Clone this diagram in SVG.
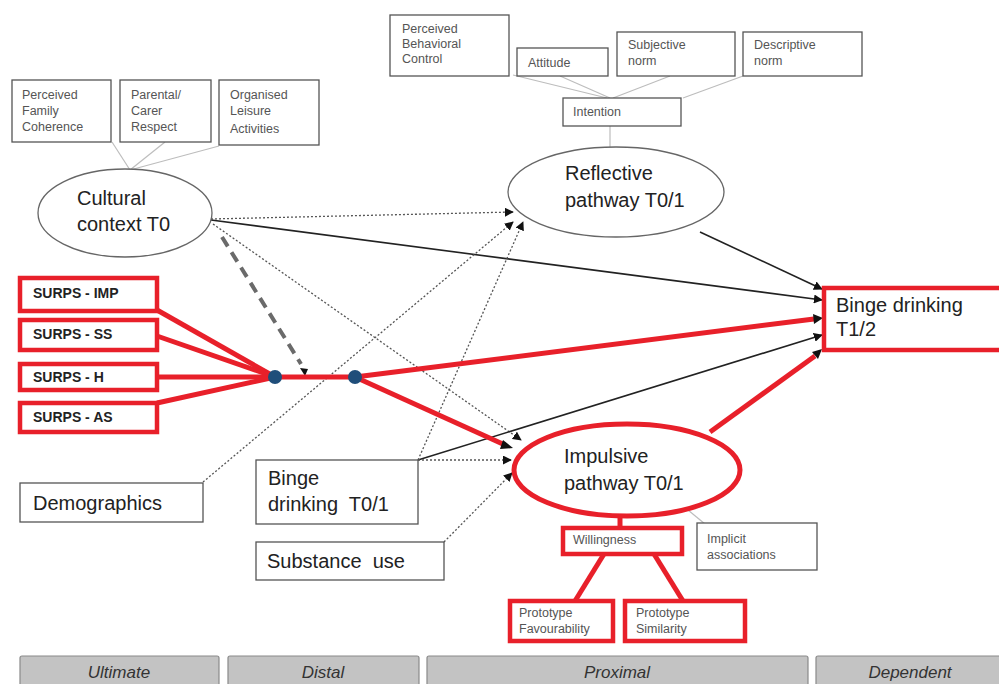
<svg xmlns="http://www.w3.org/2000/svg" width="999" height="684" viewBox="0 0 999 684">
<style>
.box{fill:#fff;stroke:#555;stroke-width:1.3}
.rbox{fill:#fff;stroke:#e8202a;stroke-width:4.5}
.sm{font-family:"Liberation Sans",Arial,sans-serif;font-size:12.5px;fill:#555}
.big{font-family:"Liberation Sans",Arial,sans-serif;font-size:20px;fill:#222;white-space:pre}
.bold{font-family:"Liberation Sans",Arial,sans-serif;font-size:14px;font-weight:bold;fill:#222}
.bar{fill:#c3c3c3;stroke:#8a8a8a;stroke-width:1.2}
.bart{font-family:"Liberation Sans",Arial,sans-serif;font-size:17px;font-style:italic;fill:#333;text-anchor:middle}
.sub{stroke:#bdbdbd;stroke-width:1.2;fill:none}
.dot{stroke:#555;stroke-width:1.3;stroke-dasharray:2 2;fill:none}
.sol{stroke:#222;stroke-width:1.6;fill:none}
.red{stroke:#e8202a;stroke-width:5;fill:none}
</style>
<defs>
<marker id="ah" viewBox="0 0 10 10" refX="9" refY="5" markerWidth="9" markerHeight="9" markerUnits="userSpaceOnUse" orient="auto">
<path d="M0,0 L10,5 L0,10 z" fill="#111"/>
</marker>
</defs>
<rect width="999" height="684" fill="#fff"/>

<g id="connectors">
<line class="sub" x1="112" y1="142" x2="130" y2="170"/>
<line class="sub" x1="165" y1="142" x2="130" y2="170"/>
<line class="sub" x1="219" y1="146" x2="130" y2="170"/>
<line class="sub" x1="513" y1="75" x2="607" y2="98"/>
<line class="sub" x1="560" y1="76" x2="610" y2="98"/>
<line class="sub" x1="670" y1="76" x2="613" y2="98"/>
<line class="sub" x1="743" y1="76" x2="683" y2="98"/>
<line class="sub" x1="610" y1="126" x2="610" y2="147"/>
<line class="sub" x1="688" y1="510" x2="705" y2="524"/>
<line class="dot" x1="211" y1="219" x2="513" y2="212" marker-end="url(#ah)"/>
<line class="sol" x1="211" y1="220" x2="822" y2="300" marker-end="url(#ah)"/>
<line class="dot" x1="213" y1="224" x2="521" y2="440" marker-end="url(#ah)"/>
<line x1="222" y1="237" x2="301" y2="364" stroke="#6a6a6a" stroke-width="4" stroke-dasharray="11 7"/>
<path d="M300,368 L308,369 L305,376 z" fill="#111"/>
<line class="dot" x1="203" y1="482" x2="513" y2="222" marker-end="url(#ah)"/>
<line class="dot" x1="418" y1="460" x2="523" y2="222" marker-end="url(#ah)"/>
<line class="sol" x1="418" y1="460" x2="822" y2="335" marker-end="url(#ah)"/>
<line class="dot" x1="418" y1="460" x2="511" y2="460" marker-end="url(#ah)"/>
<line class="dot" x1="444" y1="542" x2="512" y2="473" marker-end="url(#ah)"/>
<line class="sol" x1="700" y1="232" x2="822" y2="289" marker-end="url(#ah)"/>
<line class="red" x1="157" y1="310" x2="275" y2="377"/>
<line class="red" x1="157" y1="336" x2="275" y2="377"/>
<line class="red" x1="157" y1="377" x2="275" y2="377"/>
<line class="red" x1="157" y1="403" x2="275" y2="377"/>
<line class="red" x1="275" y1="377" x2="355" y2="377"/>
<line class="red" x1="355" y1="377" x2="814" y2="319"/>
<path d="M813,314 L823,318 L814,324 z" fill="#111"/>
<line class="red" x1="355" y1="377" x2="505" y2="445"/>
<path d="M503,440 L513,448 L500,449 z" fill="#111"/>
<line class="red" x1="710" y1="432" x2="815" y2="356"/>
<path d="M812,352 L822,349 L818,359 z" fill="#111"/>
<line class="red" x1="620" y1="516" x2="620" y2="528"/>
<line class="red" x1="604" y1="554" x2="575" y2="601"/>
<line class="red" x1="654" y1="554" x2="683" y2="601"/>
</g>

<g id="dots">
<circle cx="275" cy="377" r="7" fill="#1f4e7a"/>
<circle cx="355" cy="377" r="7" fill="#1f4e7a"/>
</g>

<g id="family-coherence"><rect class="box" x="12" y="80" width="99" height="62"/>
<text class="sm" x="22" y="99">Perceived</text><text class="sm" x="22" y="115">Family</text><text class="sm" x="22" y="131">Coherence</text></g>
<g id="parental-respect"><rect class="box" x="120" y="80" width="91" height="62"/>
<text class="sm" x="131" y="99">Parental/</text><text class="sm" x="131" y="115">Carer</text><text class="sm" x="131" y="131">Respect</text></g>
<g id="leisure"><rect class="box" x="219" y="80" width="100" height="65"/>
<text class="sm" x="230" y="99">Organised</text><text class="sm" x="230" y="115">Leisure</text><text class="sm" x="230" y="133">Activities</text></g>

<g id="cultural-context"><ellipse cx="125" cy="213" rx="87" ry="44" fill="#fff" stroke="#666" stroke-width="1.3"/>
<text class="big" x="77" y="205">Cultural</text><text class="big" x="77" y="231">context T0</text></g>

<g id="pbc"><rect class="box" x="390" y="15" width="119" height="61"/>
<text class="sm" x="402" y="33">Perceived</text><text class="sm" x="402" y="48">Behavioral</text><text class="sm" x="402" y="63">Control</text></g>
<g id="attitude"><rect class="box" x="517" y="48" width="91" height="28"/>
<text class="sm" x="528" y="67">Attitude</text></g>
<g id="subjective-norm"><rect class="box" x="617" y="32" width="118" height="44"/>
<text class="sm" x="628" y="49">Subjective</text><text class="sm" x="628" y="65">norm</text></g>
<g id="descriptive-norm"><rect class="box" x="743" y="32" width="119" height="44"/>
<text class="sm" x="754" y="49">Descriptive</text><text class="sm" x="754" y="65">norm</text></g>
<g id="intention"><rect class="box" x="563" y="98" width="118" height="28"/>
<text class="sm" x="573" y="116">Intention</text></g>

<g id="reflective"><ellipse cx="616" cy="192" rx="108" ry="45" fill="#fff" stroke="#666" stroke-width="1.3"/>
<text class="big" x="565" y="180">Reflective</text><text class="big" x="565" y="207">pathway T0/1</text></g>

<g id="binge-t12"><rect class="rbox" x="824" y="288" width="185" height="62"/>
<text class="big" x="836" y="312">Binge drinking</text><text class="big" x="836" y="336">T1/2</text></g>

<g id="surps-imp"><rect class="rbox" x="20" y="278" width="137" height="33"/><text class="bold" x="33" y="298">SURPS - IMP</text></g>
<g id="surps-ss"><rect class="rbox" x="20" y="320" width="137" height="30"/><text class="bold" x="33" y="339">SURPS - SS</text></g>
<g id="surps-h"><rect class="rbox" x="20" y="364" width="137" height="26"/><text class="bold" x="33" y="382">SURPS - H</text></g>
<g id="surps-as"><rect class="rbox" x="20" y="403" width="137" height="29"/><text class="bold" x="33" y="422">SURPS - AS</text></g>

<g id="demographics"><rect class="box" x="20" y="483" width="183" height="39"/>
<text class="big" x="33" y="510">Demographics</text></g>
<g id="binge-t01"><rect class="box" x="256" y="460" width="162" height="64"/>
<text class="big" x="268" y="485">Binge</text><text class="big" x="268" y="511">drinking  T0/1</text></g>
<g id="substance-use"><rect class="box" x="256" y="542" width="188" height="38"/>
<text class="big" x="267" y="568">Substance  use</text></g>

<g id="impulsive"><ellipse cx="627" cy="470" rx="113" ry="46" fill="#fff" stroke="#e8202a" stroke-width="5"/>
<text class="big" x="564" y="463">Impulsive</text><text class="big" x="564" y="490">pathway T0/1</text></g>

<g id="willingness"><rect class="rbox" x="563" y="528" width="119" height="26"/>
<text class="sm" x="573" y="544">Willingness</text></g>
<g id="implicit"><rect class="box" x="697" y="523" width="120" height="47"/>
<text class="sm" x="707" y="543">Implicit</text><text class="sm" x="707" y="559">associations</text></g>
<g id="proto-fav"><rect class="rbox" x="510" y="601" width="103" height="40"/>
<text class="sm" x="519" y="617">Prototype</text><text class="sm" x="519" y="633">Favourability</text></g>
<g id="proto-sim"><rect class="rbox" x="625" y="601" width="120" height="40"/>
<text class="sm" x="636" y="617">Prototype</text><text class="sm" x="636" y="633">Similarity</text></g>

<g id="bars">
<rect class="bar" x="20" y="656" width="199" height="34" rx="2"/><text class="bart" x="119" y="678">Ultimate</text>
<rect class="bar" x="228" y="656" width="191" height="34" rx="2"/><text class="bart" x="323" y="678">Distal</text>
<rect class="bar" x="427" y="656" width="381" height="34" rx="2"/><text class="bart" x="617" y="678">Proximal</text>
<rect class="bar" x="816" y="656" width="190" height="34" rx="2"/><text class="bart" x="910" y="678">Dependent</text>
</g>
</svg>
